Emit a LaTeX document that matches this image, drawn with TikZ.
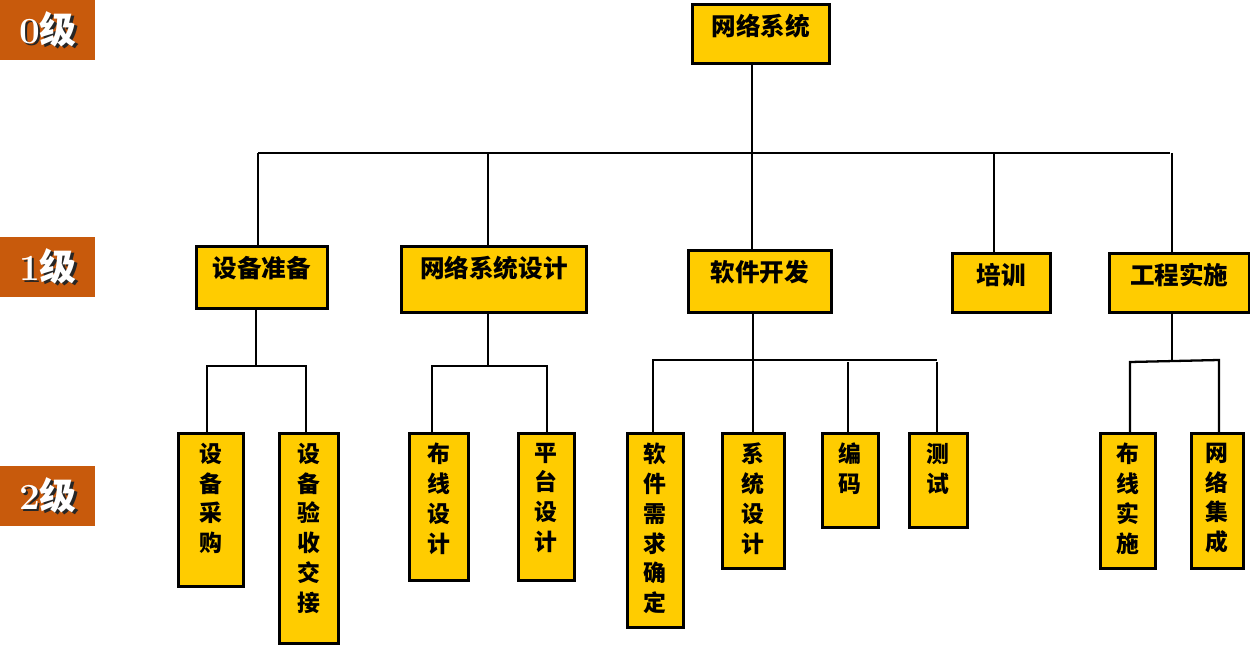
\documentclass[tikz,border=0pt]{standalone}
\usepackage{fontspec}
\newfontfamily\cjk{Noto Sans CJK SC}
\definecolor{boxyellow}{RGB}{255,204,0}
\definecolor{lvlorange}{RGB}{200,90,12}
\newcommand{\lvltext}[1]{\makebox[0pt][l]{\hspace{1.6pt}\raisebox{-1.6pt}{\color{black!85}\bfseries #1{\cjk 级}}}{\bfseries #1{\cjk 级}}}

\tikzset{
  box/.style={draw, line width=1.5pt, fill=boxyellow, anchor=north west, inner sep=0pt},
  lab/.style={anchor=north, yshift=-0.21cm, inner sep=0pt, align=center,
    font=\cjk\bfseries\fontsize{13}{17}\selectfont},
  toplab/.style={lab, font=\cjk\bfseries\fontsize{14}{17}\selectfont},
  lvl/.style={fill=lvlorange, text=white, minimum width=1.9cm, minimum height=1.2cm,
    anchor=north west, inner sep=0pt, font=\fontsize{21}{24}\selectfont},
  conn/.style={line width=1.3pt}
}

\begin{document}
\begin{tikzpicture}[x=0.02cm,y=-0.02cm]
  \useasboundingbox (0,0) rectangle (1250,645);

  % level marks
  \node[lvl] (l0) at (0,0) {\lvltext{0}};
  \node[lvl] (l1) at (0,237) {\lvltext{1}};
  \node[lvl] (l2) at (0,466) {\lvltext{2}};

  % level 0
  \node[box, minimum width=2.74cm, minimum height=1.18cm, label={[toplab]north:网络系统}] (sys) at (691,3) {};

  % level 1
  \node[box, minimum width=2.62cm, minimum height=1.24cm, label={[toplab]north:设备准备}] (prep) at (195,245) {};
  \node[box, minimum width=3.70cm, minimum height=1.32cm, label={[toplab]north:网络系统设计}] (dsgn) at (400,245) {};
  \node[box, minimum width=2.86cm, minimum height=1.24cm, label={[toplab]north:软件开发}] (soft) at (687,249) {};
  \node[box, minimum width=1.96cm, minimum height=1.18cm, label={[toplab]north:培训}] (train) at (951,252) {};
  \node[box, minimum width=2.80cm, minimum height=1.18cm, label={[toplab]north:工程实施}] (eng) at (1108,252) {};

  % level 2
  \node[box, minimum width=1.30cm, minimum height=3.06cm, label={[lab]north:设\\备\\采\\购}] (buy) at (177,432) {};
  \node[box, minimum width=1.18cm, minimum height=4.20cm, label={[lab]north:设\\备\\验\\收\\交\\接}] (accept) at (278,432) {};
  \node[box, minimum width=1.18cm, minimum height=2.94cm, label={[lab]north:布\\线\\设\\计}] (wire) at (408,432) {};
  \node[box, minimum width=1.12cm, minimum height=2.94cm, label={[lab]north:平\\台\\设\\计}] (plat) at (517,432) {};
  \node[box, minimum width=1.12cm, minimum height=3.88cm, label={[lab]north:软\\件\\需\\求\\确\\定}] (req) at (626,432) {};
  \node[box, minimum width=1.24cm, minimum height=2.70cm, label={[lab]north:系\\统\\设\\计}] (sysd) at (721,432) {};
  \node[box, minimum width=1.12cm, minimum height=1.88cm, label={[lab]north:编\\码}] (code) at (821,432) {};
  \node[box, minimum width=1.16cm, minimum height=1.88cm, label={[lab]north:测\\试}] (test) at (908,432) {};
  \node[box, minimum width=1.10cm, minimum height=2.70cm, label={[lab]north:布\\线\\实\\施}] (wimp) at (1099,432) {};
  \node[box, minimum width=1.04cm, minimum height=2.70cm, label={[lab]north:网\\络\\集\\成}] (integ) at (1190,432) {};

  % bus points
  \coordinate (b0) at (752,153);
  \coordinate (t1) at (258,153);
  \coordinate (t2) at (488,153);
  \coordinate (t4) at (994,153);
  \coordinate (t5) at (1172,153);
  \coordinate (pa) at (256,366);
  \coordinate (pb) at (207,366);
  \coordinate (pc) at (306,366);
  \coordinate (da) at (488,366);
  \coordinate (db) at (432,366);
  \coordinate (dc) at (547,366);
  \coordinate (sa) at (753,360);
  \coordinate (sb) at (653,360);
  \coordinate (sc) at (848,362);
  \coordinate (sd) at (937,362);
  \coordinate (ea) at (1172,361);
  \coordinate (eb) at (1130,362);
  \coordinate (ec) at (1219,360);

  % level 0 -> 1
  \draw[conn] (b0 |- sys.south) -- (b0);
  \draw[conn] (t1) -- (1170,153);
  \draw[conn] (t1) -- (t1 |- prep.north);
  \draw[conn] (t2) -- (t2 |- dsgn.north);
  \draw[conn] (b0) -- (b0 |- soft.north);
  \draw[conn] (t4) -- (t4 |- train.north);
  \draw[conn] (t5) -- (t5 |- eng.north);

  % level 1 -> 2
  \draw[conn] (pa |- prep.south) -- (pa);
  \draw[conn] (pb |- buy.north) -- (pb) -- (pc) -- (pc |- accept.north);
  \draw[conn] (da |- dsgn.south) -- (da);
  \draw[conn] (db |- wire.north) -- (db) -- (dc) -- (dc |- plat.north);
  \draw[conn] (sa |- soft.south) -- (sa |- sysd.north);
  \draw[conn] (sb |- req.north) -- (sb) -- (sd |- sb);
  \draw[conn] (sc) -- (sc |- code.north);
  \draw[conn] (sd) -- (sd |- test.north);
  \draw[conn] (ea |- eng.south) -- (ea);
  \draw[conn] (eb |- wimp.north) -- (eb) -- (ec) -- (ec |- integ.north);
\end{tikzpicture}
\end{document}
